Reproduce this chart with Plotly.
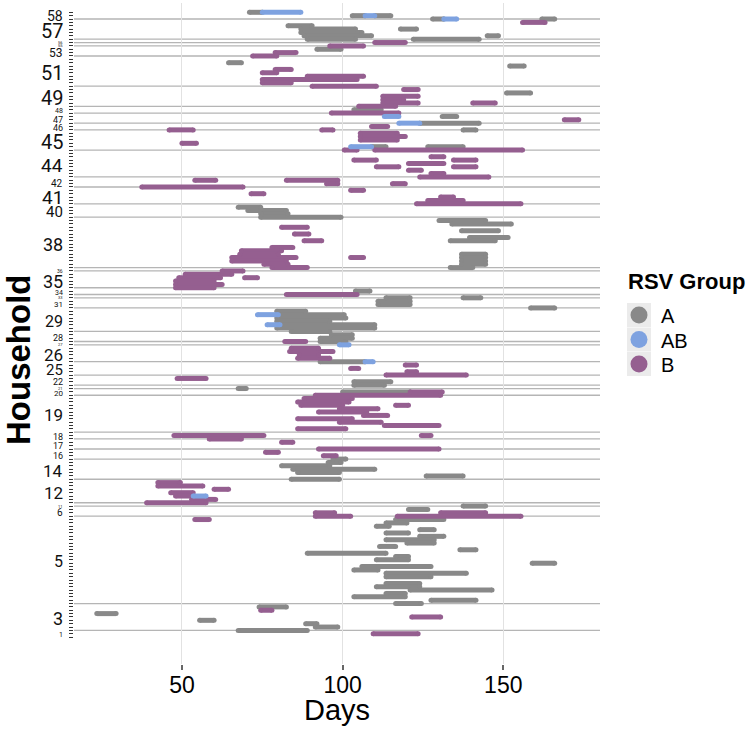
import plotly.graph_objects as go

# ---------------- data ----------------
# households, listed top to bottom, with number of members (rows)
hh_ids = [58, 57, 56, 55, 53, 51, 49, 48, 47, 46, 45, 44, 42, 41, 40, 38, 36, 35, 34, 33,
          31, 29, 28, 27, 26, 25, 22, 21, 20, 19, 18, 17, 16, 14, 12, 11, 6, 5, 3, 1]
hh_sizes = [3, 6, 1, 1, 3, 9, 6, 2, 3, 2, 6, 8, 3, 5, 4, 15, 1, 5, 2, 1,
            3, 7, 3, 1, 5, 4, 3, 1, 2, 11, 2, 3, 3, 6, 7, 1, 3, 26, 8, 2]
hh_label_size = [14, 20, 4, 4, 12, 20, 20, 7, 9, 9, 20, 19, 10, 19, 15, 18, 5, 18, 7, 4,
                 8, 16, 9, 4, 17, 15, 9, 4, 8, 17, 9, 9, 9, 17, 17, 4, 10, 16, 18, 7]

# infection episodes: individual (row index from the top), start day, end day, RSV group
ep_individual = [0, 0, 1, 1, 1, 2, 2, 2, 3, 4, 5, 5, 6, 7, 7, 8, 8, 9, 10, 11, 12, 13, 15, 16,
                 17, 18, 19, 20, 21, 22, 23, 24, 25, 26, 27, 27, 28, 29, 30, 31, 31, 32, 33, 33,
                 34, 35, 35, 35, 36, 37, 38, 39, 40, 40, 40, 41, 41, 43, 44, 44, 45, 46, 46, 47,
                 48, 49, 50, 50, 51, 51, 52, 53, 54, 55, 56, 57, 58, 59, 60, 61, 62, 63, 64, 65,
                 66, 67, 68, 68, 70, 71, 72, 72, 73, 73, 73, 74, 74, 75, 75, 76, 76, 77, 78, 79,
                 79, 80, 81, 82, 83, 84, 85, 85,
                 86, 87, 88, 89, 90, 90, 91, 92, 93, 93, 94, 95, 96, 97, 98, 98, 99, 100, 101,
                 102, 103, 104, 104, 105, 106, 107, 108, 109, 110, 111, 112, 113, 113, 114,
                 115, 116, 117, 117, 118, 119, 120, 121, 122, 123, 124, 126, 126, 127, 128, 130,
                 131, 132, 133, 134, 135, 136, 137, 138, 139,
                 140, 141, 142, 143, 144, 144, 145, 146, 147, 148, 149, 149, 150, 150,
                 151, 151, 152, 153, 154, 155, 156, 157, 158, 159, 160, 161, 162, 163, 164, 165,
                 166, 167, 168, 170, 171, 172, 173, 174, 175, 176,
                 177, 178, 179, 180, 181, 182, 183, 184, 185]
ep_start = [71, 75, 103, 107, 110, 128, 131.5, 162, 156, 83, 87, 118, 87, 88, 145, 89, 122, 110, 96, 92, 79, 72, 64.5, 152,
            79, 75, 89, 75, 75, 90.5, 119, 151, 112.5, 112.5, 112.5, 140.5, 105, 103.5, 96.5, 113, 131, 169, 117.5, 124,
            109, 46, 93.5, 137.5, 105.5, 105.5, 105.5, 50, 102.5, 109, 126.5, 100.5, 110, 127.5, 103.5, 134.5, 120.5, 110.5, 134.5, 120.5,
            127.5, 124, 54, 82.5, 95, 115.5, 37.5, 102.5, 71.5, 130.5, 126.5, 123, 67.5, 70.5, 74.5, 74.5, 130, 134, 81, 137,
            85, 139.5, 88, 133.5, 78, 68.5, 68, 137, 65.5, 102.5, 137, 65.5, 137, 75.5, 137, 78, 133.5, 62.5, 51, 49,
            69.5, 48, 48, 48, 104, 82.5, 113.5, 137.5,
            111, 111, 158.5, 79.5, 73.5, 80, 79.5, 79.5, 76.5, 80.5, 79.5, 84, 96.5, 93, 82, 93, 99, 84, 83.5,
            86.5, 86, 93, 107, 119.5, 102.5, 120, 113.5, 48.5, 103.5, 103.5, 67.5, 100, 121, 91.5,
            88, 86, 87, 116.5, 99, 92.5, 106.5, 86, 99, 113, 86, 47.5, 124.5, 58.5, 81, 92.5,
            76, 94, 97, 95.5, 81, 84.5, 86, 126, 84,
            42.5, 42.5, 60, 46.5, 48, 53.5, 53, 39, 137.5, 120.5, 91.5, 130.5, 91.5, 117,
            54, 116.5, 113.5, 110.5, 124, 113.5, 124, 113.5, 120, 111.5, 136.5, 89, 116.5, 110.5, 159, 106,
            103.5, 113.5, 113.5, 113.5, 110.5, 121, 113.5, 103.5, 127.5, 116.5,
            74, 74.5, 23.5, 121.5, 55.5, 88.5, 91.5, 67.5, 109.5]
ep_end = [75, 87, 107, 110, 115, 131.5, 135.5, 166, 163, 90.5, 104, 123, 106, 109, 148.5, 104, 142.5, 119.5, 106.5, 99.5, 85.5, 79.5, 68.5, 156.5,
          84, 79.5, 106.5, 104.5, 84, 110.5, 123.5, 158.5, 123.5, 119, 123.5, 147.5, 116.5, 112, 117.5, 117.5, 135.5, 173.5, 124, 142.5,
          114, 53.5, 97, 141.5, 117, 119.5, 117, 54.5, 109, 113.5, 137.5, 104.5, 156, 131.5, 110.5, 141.5, 131.5, 117.5, 141.5, 124.5,
          131.5, 145.5, 60.5, 98.5, 98.5, 119.5, 69, 106.5, 75.5, 134.5, 137.5, 155.5, 74.5, 82.5, 83, 99.5, 144.5, 152.5, 89, 148.5,
          89.5, 151.5, 93.5, 147.5, 84.5, 81, 80, 144.5, 85.5, 106.5, 144.5, 82.5, 144.5, 83, 144.5, 89, 140.5, 69, 65.5, 62,
          73.5, 60, 62.5, 60, 108.5, 104.5, 121, 143,
          121, 121, 166, 88.5, 80, 100.5, 101, 96, 80.5, 110, 110, 96, 103, 103, 88.5, 101, 102, 92.5, 97,
          92.5, 96, 107, 109.5, 123, 105, 123, 138.5, 57.5, 115, 113, 70, 121, 131, 130.5,
          103, 102, 100, 120.5, 111, 107.5, 114, 103, 112, 130, 101, 75.5, 127.5, 68.5, 84.5, 130,
          80, 98, 101, 99.5, 96, 110, 99, 137.5, 99,
          49.5, 56.5, 64.5, 53.5, 53.5, 57.5, 60.5, 57.5, 144.5, 126.5, 97.5, 144.5, 102.5, 155.5,
          58.5, 131.5, 120, 114.5, 128.5, 120.5, 131.5, 128.5, 128.5, 116.5, 141.5, 113.5, 120.5, 120.5, 166, 127.5,
          111, 138.5, 127.5, 124, 124, 146.5, 119.5, 119.5, 141.5, 124.5,
          82.5, 78, 29.5, 130.5, 60, 92, 98.5, 89, 123.5]
ep_group = ['A', 'AB', 'A', 'AB', 'A', 'A', 'AB', 'A', 'B', 'A', 'A', 'A', 'A', 'A', 'A', 'A', 'A', 'B', 'B', 'A', 'B', 'B', 'A', 'A',
            'B', 'B', 'B', 'B', 'B', 'B', 'B', 'A', 'B', 'B', 'B', 'B', 'B', 'A', 'B', 'AB', 'A', 'B', 'AB', 'A',
            'B', 'B', 'B', 'A', 'B', 'B', 'B', 'B', 'AB', 'A', 'A', 'B', 'B', 'B', 'B', 'B', 'B', 'B', 'B', 'B',
            'B', 'B', 'B', 'B', 'B', 'B', 'B', 'B', 'B', 'B', 'B', 'B', 'A', 'A', 'A', 'A', 'A', 'A', 'B', 'A',
            'B', 'A', 'B', 'A', 'B', 'B', 'B', 'A', 'B', 'B', 'A', 'B', 'A', 'B', 'A', 'B', 'A', 'B', 'B', 'B',
            'B', 'B', 'B', 'B', 'A', 'B', 'A', 'A',
            'A', 'A', 'A', 'A', 'AB', 'A', 'A', 'A', 'AB', 'A', 'A', 'A', 'A', 'A', 'B', 'A', 'AB', 'B', 'B',
            'B', 'B', 'A', 'AB', 'B', 'B', 'B', 'B', 'B', 'A', 'A', 'A', 'A', 'B', 'B',
            'B', 'B', 'B', 'B', 'B', 'B', 'B', 'B', 'B', 'B', 'B', 'B', 'B', 'B', 'B', 'B',
            'B', 'B', 'A', 'A', 'A', 'A', 'A', 'A', 'A',
            'B', 'B', 'B', 'B', 'B', 'AB', 'B', 'B', 'A', 'A', 'B', 'B', 'B', 'B',
            'B', 'A', 'A', 'A', 'A', 'A', 'A', 'A', 'A', 'A', 'A', 'A', 'A', 'A', 'A', 'A',
            'A', 'A', 'A', 'A', 'A', 'A', 'A', 'A', 'A', 'A',
            'A', 'B', 'A', 'B', 'A', 'A', 'A', 'A', 'B']

groups = ['A', 'AB', 'B']
group_colors = {'A': '#898989', 'AB': '#7ea2e0', 'B': '#955f90'}
x_ticks = [50, 100, 150]

# ---------------- figure ----------------
W, H = 752, 729
ML, MR, MT, MB = 74, 152, 3, 65
PW, PH = W - ML - MR, H - MT - MB


def px_x(px):
    return (px - ML) / PW


def px_y(py):
    return (H - MB - py) / PH


fig = go.Figure()

draw_order = ['A', 'B', 'AB']
for g in draw_order:
    xs, ys = [], []
    for ind, s, e, gg in zip(ep_individual, ep_start, ep_end, ep_group):
        if gg != g:
            continue
        xs += [s, e, None]
        ys += [ind, ind, None]
    fig.add_trace(go.Scatter(x=xs, y=ys, mode='lines+markers', name=g,
                             line=dict(color=group_colors[g], width=5),
                             marker=dict(color=group_colors[g], size=5, line=dict(width=0)),
                             hoverinfo='skip', showlegend=False))

# household separator lines and labels
n_rows = sum(hh_sizes)
shapes = []
annotations = []
start = 0
for i, (hid, n, fs) in enumerate(zip(hh_ids, hh_sizes, hh_label_size)):
    bottom = start + n - 1
    if i < len(hh_ids) - 1:
        shapes.append(dict(type='line', xref='paper', x0=0, x1=1, yref='y', y0=bottom, y1=bottom,
                           line=dict(color='#b5b5b5', width=1.3), layer='below'))
    annotations.append(dict(text=str(hid), xref='paper', x=px_x(65), xanchor='right',
                            yref='y', y=(start + bottom) / 2, yanchor='middle', showarrow=False,
                            font=dict(family='Roboto', size=fs, color='#111')))
    start += n

# axis titles
annotations.append(dict(text='<b>Household</b>', xref='paper', yref='paper', x=px_x(19), y=px_y(360),
                        textangle=-90, showarrow=False, xanchor='center', yanchor='middle',
                        font=dict(family='Liberation Sans', size=33, color='black')))
annotations.append(dict(text='Days', xref='paper', yref='paper', x=px_x(337), y=px_y(710),
                        showarrow=False, xanchor='center', yanchor='middle',
                        font=dict(family='Liberation Sans', size=29, color='black')))

# legend (drawn manually)
annotations.append(dict(text='<b>RSV Group</b>', xref='paper', yref='paper', x=px_x(626), y=px_y(281),
                        showarrow=False, xanchor='left', yanchor='middle',
                        font=dict(family='Liberation Sans', size=22, color='black')))
key_top = 303
for k, g in enumerate(groups):
    y0 = key_top + 24.5 * k
    shapes.append(dict(type='rect', xref='paper', yref='paper', x0=px_x(627), x1=px_x(651),
                       y0=px_y(y0 + 24), y1=px_y(y0), fillcolor='#ebebeb', line=dict(width=0)))
    shapes.append(dict(type='circle', xref='paper', yref='paper', x0=px_x(639 - 8.5), x1=px_x(639 + 8.5),
                       y0=px_y(y0 + 12 + 8.5), y1=px_y(y0 + 12 - 8.5), fillcolor=group_colors[g],
                       line=dict(width=0)))
    annotations.append(dict(text=g, xref='paper', yref='paper', x=px_x(659), y=px_y(y0 + 13),
                            showarrow=False, xanchor='left', yanchor='middle',
                            font=dict(family='Liberation Sans', size=20, color='black')))

fig.update_layout(width=W, height=H, margin=dict(l=ML, r=MR, t=MT, b=MB),
                  plot_bgcolor='white', paper_bgcolor='white', showlegend=False,
                  shapes=shapes, annotations=annotations)
fig.update_xaxes(range=[16.4, 180.1], tickvals=x_ticks, showgrid=True, gridcolor='#e2e2e2', gridwidth=1,
                 ticks='outside', ticklen=5, tickwidth=1.5, tickcolor='#666', zeroline=False,
                 showline=False, ticklabelstandoff=-5,
                 tickfont=dict(family='Liberation Sans', size=23, color='black'))
fig.update_yaxes(range=[194.0, -2.77], tickvals=list(range(n_rows)), ticks='outside', ticklen=4,
                 tickwidth=1, tickcolor='#333', showticklabels=False, showgrid=False,
                 zeroline=False, showline=False)

fig.write_html('out.html', config={'displayModeBar': False},
               post_script="document.body.style.margin='0';document.body.style.overflow='hidden';")
